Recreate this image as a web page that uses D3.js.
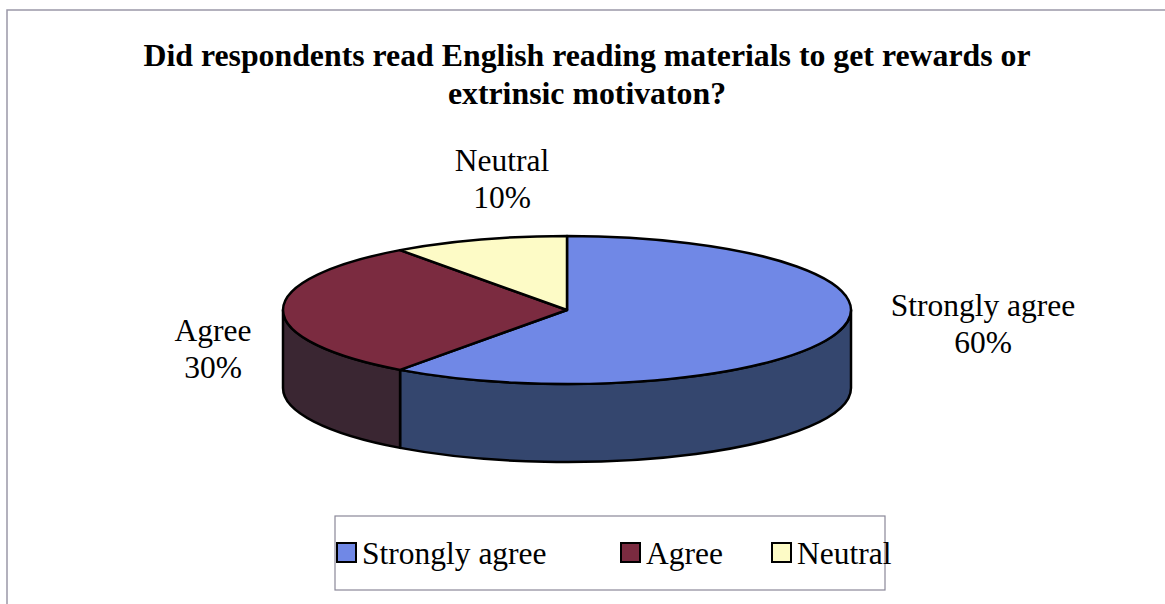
<!DOCTYPE html>
<html><head><meta charset="utf-8">
<script src="https://cdn.jsdelivr.net/npm/d3@7/dist/d3.min.js"></script>
<style>body{margin:0;background:#fff}svg{display:block}</style>
</head><body>
<svg id="c" width="1165" height="604"></svg>
<script>
const categories = ["Strongly agree", "Agree", "Neutral"];
const values = [60, 30, 10];
const labels = ["60%", "30%", "10%"];
const titleLines = ["Did respondents read English reading materials to get rewards or", "extrinsic motivaton?"];
const topColors = ["#7088e6", "#7b2b40", "#fdfbc6"];
const sideColors = ["#34466e", "#3a2632", "#b0ae88"];

const svg = d3.select("#c");
const font = "'Liberation Serif','Times New Roman',serif";

// frame
svg.append("path").attr("d","M7,604 L7,10 L1165,10").attr("fill","none").attr("stroke","#9a98a8").attr("stroke-width",1.5);

// title
svg.append("g").selectAll("text").data(titleLines).join("text")
  .attr("x",587).attr("y",(d,i)=>66+i*38).attr("text-anchor","middle")
  .attr("font-family",font).attr("font-weight","bold").attr("font-size",31.8)
  .text(d=>d);

const cx=567, cy=310, rx=284, ry=74, depth=78;
const pie = d3.pie().sort(null).value(d=>d.v);
const arcs = pie(categories.map((c,i)=>({c, v:values[i], i})));
const px = a => cx + rx*Math.sin(a);
const py = a => cy - ry*Math.cos(a);

const g = svg.append("g");
// sides (front half: angles between PI/2 and 3PI/2)
arcs.forEach(d=>{
  const a0=Math.max(d.startAngle, Math.PI/2), a1=Math.min(d.endAngle, 3*Math.PI/2);
  if(a1<=a0) return;
  const large = (a1-a0)>Math.PI?1:0;
  const p = `M${px(a0)},${py(a0)} A${rx},${ry} 0 ${large} 1 ${px(a1)},${py(a1)} L${px(a1)},${py(a1)+depth} A${rx},${ry} 0 ${large} 0 ${px(a0)},${py(a0)+depth} Z`;
  g.append("path").attr("d",p).attr("fill",sideColors[d.data.i]).attr("stroke","#000").attr("stroke-width",2.5).attr("stroke-linejoin","round");
});
// tops
arcs.forEach(d=>{
  const a0=d.startAngle, a1=d.endAngle;
  const large = (a1-a0)>Math.PI?1:0;
  const p = `M${cx},${cy} L${px(a0)},${py(a0)} A${rx},${ry} 0 ${large} 1 ${px(a1)},${py(a1)} Z`;
  g.append("path").attr("d",p).attr("fill",topColors[d.data.i]).attr("stroke","#000").attr("stroke-width",2.5).attr("stroke-linejoin","round");
});

// data labels
const labelPos = [[983,305],[213,330],[502,160]];
arcs.forEach(d=>{
  const [x,y]=labelPos[d.data.i];
  const t = svg.append("text").attr("x",x).attr("text-anchor","middle")
    .attr("font-family",font).attr("font-size",31.5);
  t.append("tspan").attr("x",x).attr("y",y+11).text(d.data.c);
  t.append("tspan").attr("x",x).attr("y",y+48).text(labels[d.data.i]);
});

// legend
svg.append("rect").attr("x",335).attr("y",516).attr("width",550).attr("height",74)
  .attr("fill","none").attr("stroke","#8a8898").attr("stroke-width",1.2);
const legX = [337, 621, 772];
const lg = svg.append("g").selectAll("g").data(categories).join("g")
  .attr("transform",(d,i)=>`translate(${legX[i]},553)`);
lg.append("rect").attr("x",0).attr("y",-10).attr("width",19).attr("height",19)
  .attr("fill",(d,i)=>topColors[i]).attr("stroke","#000").attr("stroke-width",2);
lg.append("text").attr("x",25).attr("y",11).attr("font-family",font).attr("font-size",31.5).text(d=>d);
</script>
</body></html>
